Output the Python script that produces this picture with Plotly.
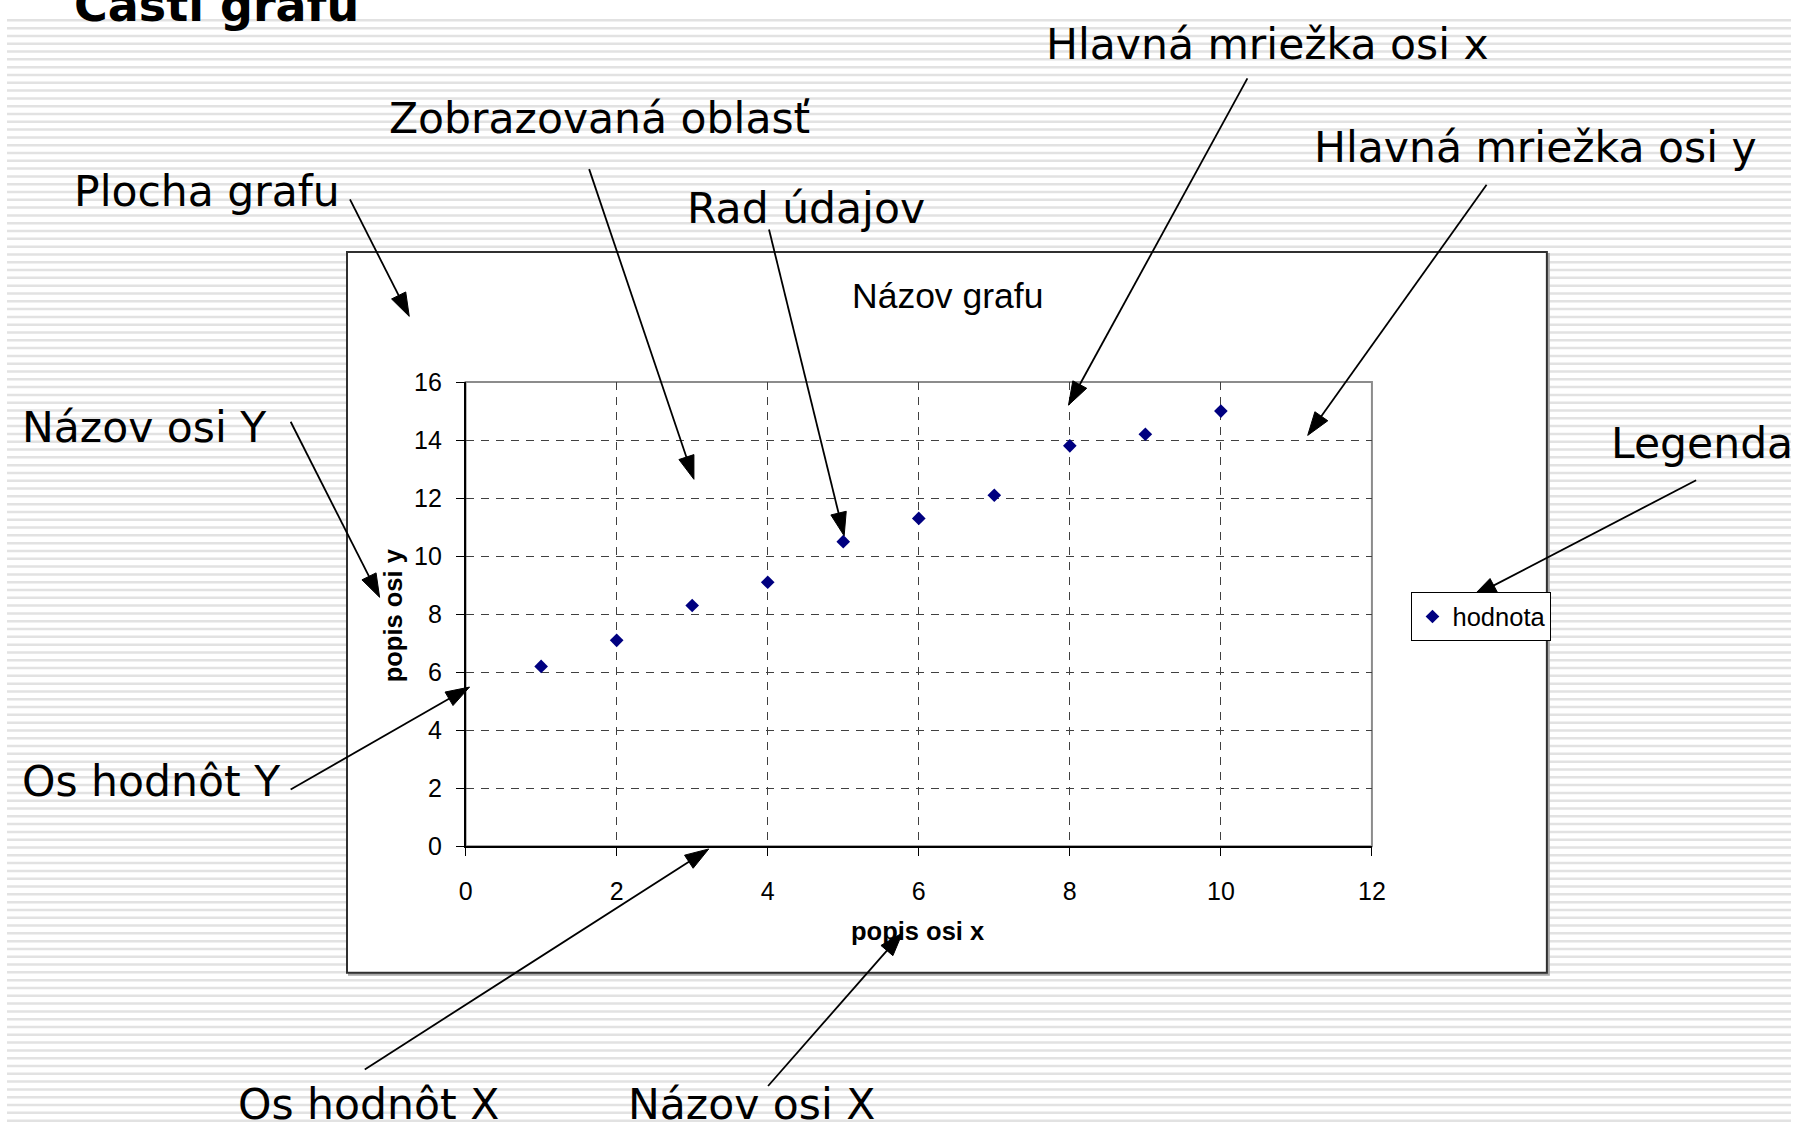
import math
import plotly.graph_objects as go

# ---------------- data ----------------
x_values = [1, 2, 3, 4, 5, 6, 7, 8, 9, 10]
y_values = [6.2, 7.1, 8.3, 9.1, 10.5, 11.3, 12.1, 13.8, 14.2, 15.0]
series_name = "hodnota"
x_ticks = [0, 2, 4, 6, 8, 10, 12]
y_ticks = [0, 2, 4, 6, 8, 10, 12, 14, 16]
chart_title = "Názov grafu"
x_title = "popis osi x"
y_title = "popis osi y"
slide_title = "Časti grafu"

# callout labels: text, left x, baseline y (window pixels)
callout_texts = ["Plocha grafu", "Zobrazovaná oblasť", "Rad údajov",
                 "Hlavná mriežka osi x", "Hlavná mriežka osi y", "Legenda",
                 "Názov osi Y", "Os hodnôt Y", "Os hodnôt X", "Názov osi X"]
callout_left = [66, 384, 686, 1049, 1320, 1621, 13, 13, 232, 626]
callout_base = [197, 122, 214, 46, 152, 455, 439, 802, 1133, 1133]
# arrows: tail (x, y) -> tip (x, y), window pixels
arrow_tail = [(347, 190), (589, 159), (771, 221), (1255, 66), (1497, 175),
              (1709, 478), (287, 418), (287, 795), (362, 1082), (770, 1099)]
arrow_tip = [(407, 310), (695, 477), (847, 535), (1074, 401), (1316, 432),
             (1483, 597), (377, 598), (468, 690), (710, 856), (906, 942)]

# ---------------- geometry (window pixels, converted to paper fractions) ----------------
W, H = 1805, 1140
BOX = (344, 244, 1558, 983)          # chart area box
PLOT = (464, 377.3, 1381, 853.3)     # plot area (left, top, right, bottom)


def px(x):
    return x / W


def py(y):
    return 1 - y / H


fig = go.Figure()
fig.add_trace(go.Scatter(
    x=x_values, y=y_values, mode="markers", name=series_name,
    marker=dict(symbol="diamond", size=10.5, color="#000080"),
    showlegend=True, hoverinfo="x+y"))

shapes = []
# striped slide background
parts = []
yy = 6.5
while yy < H:
    parts.append(f"M0,{py(yy):.5f}L1,{py(yy):.5f}")
    yy += 8
shapes.append(dict(type="path", path="".join(parts), xref="paper", yref="paper",
                   line=dict(color="#e2e2e2", width=2.5), layer="below"))
# chart box shadow + box
shapes.append(dict(type="rect", xref="paper", yref="paper",
                   x0=px(BOX[0] + 2), x1=px(BOX[2] + 2), y0=py(BOX[1] + 2), y1=py(BOX[3] + 2),
                   line=dict(color="#a8a8a8", width=2), fillcolor="#a8a8a8", layer="below"))
shapes.append(dict(type="rect", xref="paper", yref="paper",
                   x0=px(BOX[0]), x1=px(BOX[2]), y0=py(BOX[1]), y1=py(BOX[3]),
                   line=dict(color="#303030", width=2), fillcolor="white", layer="below"))
# plot area frame (grey top/right)
shapes.append(dict(type="rect", xref="x domain", yref="y domain", x0=0, x1=1, y0=0, y1=1,
                   line=dict(color="#8c8c8c", width=2), layer="below"))

# arrows
HEAD_L, HEAD_W = 24, 16
for (tx, ty), (hx, hy) in zip(arrow_tail, arrow_tip):
    dx, dy = hx - tx, hy - ty
    d = math.hypot(dx, dy)
    ux, uy = dx / d, dy / d
    bx, by = hx - HEAD_L * ux, hy - HEAD_L * uy
    nx, ny = -uy, ux
    shapes.append(dict(type="line", xref="paper", yref="paper",
                       x0=px(tx), y0=py(ty), x1=px(bx + ux * 2), y1=py(by + uy * 2),
                       line=dict(color="black", width=1.8), layer="above"))
    p1 = (bx + nx * HEAD_W / 2, by + ny * HEAD_W / 2)
    p2 = (bx - nx * HEAD_W / 2, by - ny * HEAD_W / 2)
    path = (f"M{px(hx):.5f},{py(hy):.5f}L{px(p1[0]):.5f},{py(p1[1]):.5f}"
            f"L{px(p2[0]):.5f},{py(p2[1]):.5f}Z")
    shapes.append(dict(type="path", path=path, xref="paper", yref="paper",
                       fillcolor="black", line=dict(color="black", width=1), layer="above"))

annotations = []
LABEL_FS = 42.5
for txt, lx, base in zip(callout_texts, callout_left, callout_base):
    annotations.append(dict(text=txt, xref="paper", yref="paper", x=px(lx),
                            y=py(base - 0.346 * LABEL_FS), xanchor="left", yanchor="middle",
                            showarrow=False,
                            font=dict(family="DejaVu Sans", size=LABEL_FS, color="black")))
# slide title (cut off at the top edge, as in the reference)
TFS = 46
annotations.append(dict(text=f"<b>{slide_title}</b>", xref="paper", yref="paper", x=px(66),
                        y=py(7 - 0.346 * TFS), xanchor="left", yanchor="middle", showarrow=False,
                        font=dict(family="DejaVu Sans", size=TFS, color="black")))
# chart title
annotations.append(dict(text=chart_title, xref="paper", yref="paper", x=px(952), y=py(289),
                        xanchor="center", yanchor="middle", showarrow=False,
                        font=dict(family="Liberation Sans, Arial", size=35.5, color="black")))
# axis titles
annotations.append(dict(text=f"<b>{x_title}</b>", xref="paper", yref="paper", x=px(921), y=py(940),
                        xanchor="center", yanchor="middle", showarrow=False,
                        font=dict(family="Liberation Sans, Arial", size=25.5, color="black")))
annotations.append(dict(text=f"<b>{y_title}</b>", xref="paper", yref="paper", x=px(390), y=py(616),
                        xanchor="center", yanchor="middle", showarrow=False, textangle=-90,
                        font=dict(family="Liberation Sans, Arial", size=25.5, color="black")))

axis_common = dict(showgrid=True, gridcolor="#404040", gridwidth=1, griddash="8px,7px",
                   showline=True, linecolor="black", linewidth=1.5, zeroline=False,
                   ticks="outside", ticklen=8, tickwidth=1, tickcolor="black",
                   tickfont=dict(family="Liberation Sans, Arial", size=25, color="black"),
                   fixedrange=True)

fig.update_layout(
    autosize=True,
    margin=dict(l=0, r=0, t=0, b=0, pad=0),
    paper_bgcolor="white", plot_bgcolor="rgba(0,0,0,0)",
    showlegend=True,
    legend=dict(x=px(1421), y=py(593), xanchor="left", yanchor="top",
                bordercolor="black", borderwidth=1, bgcolor="white",
                font=dict(family="Liberation Sans, Arial", size=25.5, color="black"),
                itemsizing="trace"),
    xaxis=dict(domain=[px(PLOT[0]), px(PLOT[2])], range=[0, 12], tickvals=x_ticks,
               ticklabelstandoff=14, **axis_common),
    yaxis=dict(domain=[py(PLOT[3]), py(PLOT[1])], range=[0, 16], tickvals=y_ticks,
               ticklabelstandoff=9, **axis_common),
    shapes=shapes, annotations=annotations,
)

# the figure fills the whole window (fixed to the viewport, no page margin)
fill_js = ("document.documentElement.style.overflow='hidden';"
           "document.body.style.margin='0';document.body.style.overflow='hidden';"
           "var gd=document.getElementById('{plot_id}');"
           "gd.style.position='fixed';gd.style.left='0px';gd.style.top='0px';"
           "gd.style.width='100vw';gd.style.height='100vh';"
           "Plotly.Plots.resize(gd);")
fig.write_html("out.html", config={"displayModeBar": False},
               default_width="100vw",
               default_height="100vh; position:fixed; left:0; top:0; margin:0",
               post_script=fill_js)
